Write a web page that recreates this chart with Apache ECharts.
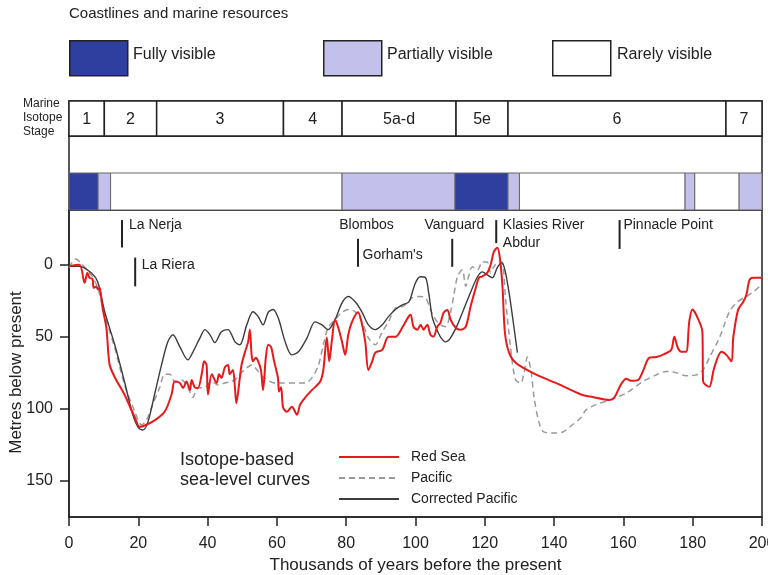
<!DOCTYPE html>
<html><head><meta charset="utf-8">
<script src="https://cdn.jsdelivr.net/npm/echarts@6/dist/echarts.min.js"></script>
<style>html,body{margin:0;padding:0;background:#fff}#c{width:768px;height:575px}</style>
</head><body><div id="c"></div>
<script>
// ---- Data ----
const stageLabels = ['1', '2', '3', '4', '5a-d', '5e', '6', '7'];
const stageBounds = [0, 10.2, 25.3, 61.9, 78.8, 111.7, 126.7, 189.6, 200];

const visStart = [0, 8.4, 12, 78.8, 111.4, 126.7, 130, 177.8, 180.6, 193.4];
const visEnd   = [8.4, 12, 78.8, 111.4, 126.7, 130, 177.8, 180.6, 193.4, 200];
const visLevel = [2, 1, 0, 1, 2, 1, 0, 1, 0, 1]; // 2 fully, 1 partially, 0 rarely
const visNames = ['Rarely visible', 'Partially visible', 'Fully visible'];

const siteNames   = ['La Nerja', 'La Riera', 'Blombos', "Gorham's", 'Vanguard', 'Klasies River\nAbdur', 'Pinnacle Point'];
const siteTextX   = [17.3, 21.0, 78.0, 84.7, 102.6, 125.2, 160.0];
const siteTextY   = [-27.8, 0, -27.8, -7, -27.8, -21.5, -27.8];
const siteLineX   = [15.3, 19.1, null, 83.4, 110.6, 123.3, 158.9];
const siteLineTop = [-31, -5, null, -18, -18, -31, -31];
const siteLineBot = [-12, 15, null, 1.4, 1.4, -15, -11];

const redSea = [[0,1],[3,0],[4.5,12.5],[5.3,5.5],[5.9,9],[6.8,10],[7.1,16],[7.9,15],[8.3,17],[8.8,16],[9.1,19],[9.7,30],[10.8,44],[11.7,69],[13.2,78],[16,90],[19,106],[20.4,112.5],[22.3,111],[24.7,108],[27.6,102],[29.6,90],[30.5,81],[32,82],[32.9,85.5],[33.9,81],[34.9,87],[35.4,80],[36.3,85],[37.2,85.5],[38.3,76],[39,67],[39.7,69.5],[40.1,90],[41.2,76],[42.6,82],[43.3,76],[44,78.5],[45,71],[45.9,69.5],[46.4,76],[47.3,73],[47.9,85.5],[48.3,96],[49.3,78.5],[49.8,69.5],[50.8,60.5],[51.7,53.5],[52.2,45],[52.7,62.5],[53.1,67],[53.9,64.5],[54.6,67],[55.4,73],[56,87],[56.8,64.5],[57.5,55.5],[58.3,57],[59.2,67],[60.3,78.5],[60.6,88],[61.2,85],[61.8,99],[62.9,102],[64.3,98.5],[65.8,104],[66.7,97],[68.2,92],[70.1,87],[72.5,81],[73.4,73],[74.4,50.5],[75.1,67],[75.9,52],[76.8,38],[77.7,43.5],[78.8,53.5],[79.7,62.5],[80.6,48.5],[81.7,39.5],[83.4,33],[84.4,39.5],[85.5,53.5],[86.4,73],[87.5,67],[88.4,61],[90.4,59],[92.2,50],[94.2,50],[96.2,43.5],[98,36],[98.6,34.7],[99.4,43],[100.5,45],[101.5,41.7],[102.3,45],[103.4,41.7],[104.3,48.6],[105.2,49.8],[106.3,42.8],[107.2,40.3],[108.1,33.3],[109.2,31.3],[110.1,38],[111.6,43.7],[113,45],[114.5,43],[115.9,29],[117.4,16],[118.3,9],[119.3,8],[120.7,5.6],[121.7,0],[122.6,-9],[123.6,-11.8],[124.3,-5.6],[125.1,15],[125.8,47],[127,61],[128.9,68],[133.8,75],[140.5,82],[147.8,90],[151.1,91.7],[156,93.8],[157.3,92.4],[159.3,83],[160.8,79],[162.2,80.5],[164.2,80],[165.6,74],[167.5,64.5],[169.5,64],[171.8,62],[173.8,59],[174.7,50],[175.7,57.6],[176.7,60.4],[178.1,60.4],[179,39.6],[179.9,31],[181,34.7],[182.8,46.5],[183,81],[183.6,83],[184.8,84.7],[186.2,71.5],[188.3,60.4],[189.7,62.5],[191.2,67],[191.7,50.7],[193.1,31.3],[194.6,25.7],[195.5,20.8],[196.4,10.4],[197.5,9],[200,9]];

const pacific = [[0,2],[1,-2],[2,-4],[3.5,-1],[5,3],[6.4,7],[8.3,16],[10.3,35],[13.2,57.6],[16,83],[19,102],[20.9,111],[22.3,108],[23.8,99],[26.2,85],[27.6,76],[29.1,76],[30.5,81],[32.5,80],[34.3,85],[35.7,92],[37.2,85.5],[39.2,85],[41.2,81],[43,83.5],[45,82],[46.9,81],[48.8,78],[49.3,76],[51.3,71.5],[52.7,69.5],[54.6,74],[56,78],[59.5,82],[60.4,82],[68.2,82],[70.1,78.5],[72,69.5],[73.4,55.5],[74.8,43.7],[76.8,38],[78.8,33],[80.6,31],[82.6,32.6],[84.6,39.6],[86.4,50.7],[88.4,55.5],[90.4,46.5],[92.2,39.6],[94.2,30],[96.2,29],[97.6,26.6],[99,23],[100.8,22],[102.9,23],[104.3,31],[105.8,38],[107.2,41.7],[108.7,43],[110.1,33],[111,22],[112.1,8.3],[113.5,3.5],[114.5,15],[115.3,8.3],[116.4,1.4],[117.9,3.5],[119.3,-2],[120.7,-2],[121.7,5.6],[122.6,1.4],[124,-2],[125.1,-1.4],[126,24],[127.5,59],[128.9,80],[130.4,82],[131.3,75],[132.3,64],[133.3,73],[134.2,91.7],[135.6,109],[137,116],[139.6,116.7],[142.5,116],[145.3,111],[147.8,106],[149.2,100.7],[152.1,97],[156,93.8],[160.8,89],[165.6,81],[169.5,76.4],[172.4,74],[175.3,75],[178.1,77],[181,76.4],[183,73],[184.8,64.5],[187.7,50.7],[190.6,32.6],[192.6,26.4],[195.5,22],[197.5,18.8],[199.3,15]];

const correctedPacific = [[0,1],[3,1],[6.4,5.6],[8.3,12],[10.3,32.6],[13.2,55.5],[16,81],[18.4,104],[20,113],[21.3,114.6],[22.7,109.7],[24.7,90],[26.7,69.5],[28.5,53.5],[30,48.6],[32,57],[34.3,66],[35.8,60.4],[37.8,50.7],[39.2,45],[40.7,48.6],[42.1,54],[44,46.5],[45.9,45],[47.9,53.5],[49.3,55.5],[51.3,41.7],[53.1,32.6],[54.6,36],[56,41.7],[57.5,33],[58.9,31],[60.4,37],[62.4,53.5],[64.3,62.5],[66.2,60.4],[68.7,50.7],[71,39.6],[73,41.7],[74.8,45],[76.8,38],[78.8,26.4],[80.6,22],[82.6,25.7],[84.6,33],[86.4,41.7],[88.4,45],[90.4,41.7],[92.2,36],[94.2,31],[96.2,27.8],[98,26],[98.6,23],[100,12.5],[101.4,8.3],[102.9,9],[103.8,19.4],[104.8,36],[105.8,43],[107.2,50],[108.7,53.5],[110.1,50.7],[112.1,41.7],[113.9,31],[115.9,19],[117.9,8.3],[119.3,4.9],[120.7,7],[122.2,9],[123.6,2],[124.9,-1.4],[125.8,3.5],[127,19.4],[128.4,43],[129.4,61]];

const yTickValues = [0, 50, 100, 150];

// ---- Styles ----
const FONT = '"Liberation Sans", Arial, sans-serif';
const INK = '#222';
const visColors = ['#ffffff', '#c3c1ec', '#2f3f9f'];

const chart = echarts.init(document.getElementById('c'), null, {renderer: 'canvas'});

function renderStage(params, api) {
  const i = api.value(2);
  const p0 = api.coord([api.value(0), 1]);
  const p1 = api.coord([api.value(1), 0]);
  return {type: 'group', children: [
    {type: 'rect', shape: {x: p0[0], y: p0[1], width: p1[0] - p0[0], height: p1[1] - p0[1]},
     style: {fill: '#fff', stroke: INK, lineWidth: 1.5}},
    {type: 'text', style: {text: stageLabels[i], x: (p0[0] + p1[0]) / 2, y: (p0[1] + p1[1]) / 2 + 1,
     align: 'center', verticalAlign: 'middle', fontSize: 16, fontFamily: FONT, fill: INK}}
  ]};
}
function renderVis(params, api) {
  const i = api.value(2);
  const p0 = api.coord([api.value(0), 1]);
  const p1 = api.coord([api.value(1), 0]);
  return {type: 'rect', shape: {x: p0[0], y: p0[1], width: p1[0] - p0[0], height: p1[1] - p0[1]},
    style: {fill: visColors[visLevel[i]], stroke: '#666', lineWidth: 1}};
}
function renderSite(params, api) {
  const i = api.value(2);
  const t = api.coord([api.value(0), api.value(1)]);
  const children = [{type: 'text', style: {text: siteNames[i], x: t[0], y: t[1], align: 'left',
    verticalAlign: 'middle', fontSize: 14, lineHeight: 18, fontFamily: FONT, fill: INK}}];
  if (siteLineX[i] !== null) {
    const a = api.coord([siteLineX[i], siteLineTop[i]]);
    const b = api.coord([siteLineX[i], siteLineBot[i]]);
    children.push({type: 'line', shape: {x1: a[0], y1: a[1], x2: b[0], y2: b[1]},
      style: {stroke: INK, lineWidth: 2}});
  }
  return {type: 'group', children};
}

const gridCommon = {left: 69, right: 6, show: true, borderColor: INK, borderWidth: 1.5,
  backgroundColor: 'transparent', containLabel: false, outerBoundsMode: 'none'};

const option = {
  animation: false,
  backgroundColor: '#fff',
  textStyle: {fontFamily: FONT},
  grid: [
    Object.assign({top: 101, height: 35}, gridCommon),
    Object.assign({top: 136, height: 74}, gridCommon),
    Object.assign({top: 210, height: 307}, gridCommon)
  ],
  xAxis: [
    {gridIndex: 0, type: 'value', min: 0, max: 200, show: false},
    {gridIndex: 1, type: 'value', min: 0, max: 200, show: false},
    {gridIndex: 2, type: 'value', min: 0, max: 200, interval: 20,
     name: 'Thousands of years before the present', nameLocation: 'middle', nameGap: 40,
     nameMoveOverlap: false,
     nameTextStyle: {fontSize: 17, color: INK, fontFamily: FONT},
     axisLine: {onZero: false, lineStyle: {color: INK, width: 1.5}},
     axisTick: {length: 9, lineStyle: {color: INK, width: 1.5}},
     axisLabel: {fontSize: 16, color: INK, margin: 19, fontFamily: FONT},
     splitLine: {show: false}}
  ],
  yAxis: [
    {gridIndex: 0, type: 'value', min: 0, max: 1, show: false},
    {gridIndex: 1, type: 'value', min: 0, max: 2, show: false},
    {gridIndex: 2, type: 'value', min: -38, max: 175, inverse: true,
     name: 'Metres below present', nameLocation: 'middle', nameGap: 44, nameRotate: 90,
     nameMoveOverlap: false,
     nameTextStyle: {fontSize: 17, color: INK, fontFamily: FONT, padding: [0, 18, 0, 0]},
     axisLine: {onZero: false, lineStyle: {color: INK, width: 1.5}},
     axisTick: {length: 9, customValues: yTickValues, lineStyle: {color: INK, width: 1.5}},
     axisLabel: {fontSize: 16, color: INK, margin: 16, customValues: yTickValues, fontFamily: FONT},
     splitLine: {show: false}}
  ],
  legend: {
    data: ['Red Sea', 'Pacific', 'Corrected Pacific'],
    orient: 'vertical', left: 333, top: 445, itemWidth: 60, itemHeight: 14, itemGap: 7,
    selectedMode: false,
    itemStyle: {opacity: 0},
    textStyle: {fontSize: 14, color: INK, fontFamily: FONT, padding: [0, 0, 0, 7]}
  },
  graphic: [
    {type: 'text', left: 69, top: 6, style: {text: 'Coastlines and marine resources', fontSize: 15, fontFamily: FONT, fill: INK}},
    {type: 'rect', left: 69, top: 40, shape: {width: 58, height: 35}, style: {fill: visColors[2], stroke: INK, lineWidth: 1.5}},
    {type: 'text', left: 133, top: 47, style: {text: visNames[2], fontSize: 16, fontFamily: FONT, fill: INK}},
    {type: 'rect', left: 323, top: 40, shape: {width: 58, height: 35}, style: {fill: visColors[1], stroke: INK, lineWidth: 1.5}},
    {type: 'text', left: 387, top: 47, style: {text: visNames[1], fontSize: 16, fontFamily: FONT, fill: INK}},
    {type: 'rect', left: 552, top: 40, shape: {width: 58, height: 35}, style: {fill: visColors[0], stroke: INK, lineWidth: 1.5}},
    {type: 'text', left: 617, top: 47, style: {text: visNames[0], fontSize: 16, fontFamily: FONT, fill: INK}},
    {type: 'text', left: 23, top: 97, style: {text: 'Marine\nIsotope\nStage', fontSize: 12, lineHeight: 14, fontFamily: FONT, fill: INK}},
    {type: 'text', left: 180, top: 450, style: {text: 'Isotope-based\nsea-level curves', fontSize: 18, lineHeight: 20, fontFamily: FONT, fill: INK}}
  ],
  series: [
    {type: 'custom', xAxisIndex: 0, yAxisIndex: 0, silent: true, renderItem: renderStage,
     encode: {x: [0, 1]}, data: stageLabels.map((s, i) => [stageBounds[i], stageBounds[i + 1], i])},
    {type: 'custom', xAxisIndex: 1, yAxisIndex: 1, silent: true, renderItem: renderVis,
     encode: {x: [0, 1]}, data: visStart.map((s, i) => [s, visEnd[i], i])},
    {type: 'custom', xAxisIndex: 2, yAxisIndex: 2, silent: true, renderItem: renderSite, clip: false,
     encode: {x: 0, y: 1}, data: siteNames.map((n, i) => [siteTextX[i], siteTextY[i], i])},
    {name: 'Pacific', type: 'line', xAxisIndex: 2, yAxisIndex: 2, data: pacific, smooth: 0.3,
     symbol: 'none', lineStyle: {color: '#9a9a9a', width: 1.5, type: [6, 4]}, itemStyle: {color: '#9a9a9a'}},
    {name: 'Corrected Pacific', type: 'line', xAxisIndex: 2, yAxisIndex: 2, data: correctedPacific, smooth: 0.3,
     symbol: 'none', lineStyle: {color: '#3c3c3c', width: 1.4}, itemStyle: {color: '#3c3c3c'}},
    {name: 'Red Sea', type: 'line', xAxisIndex: 2, yAxisIndex: 2, data: redSea, smooth: 0.3,
     symbol: 'none', lineStyle: {color: '#e8191a', width: 2}, itemStyle: {color: '#e8191a'}}
  ]
};
chart.setOption(option);
</script>
</body></html>
